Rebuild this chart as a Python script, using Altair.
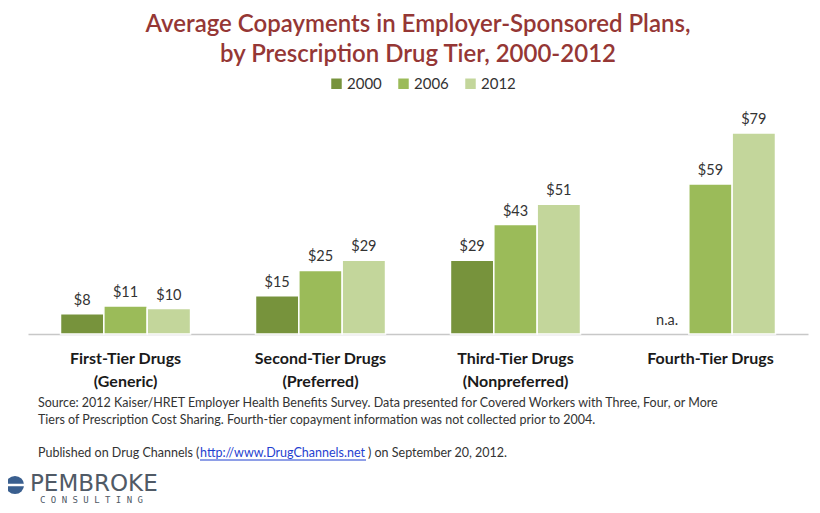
import altair as alt
import pandas as pd

# ---- data ----
tiers = ["First-Tier Drugs\n(Generic)", "Second-Tier Drugs\n(Preferred)",
         "Third-Tier Drugs\n(Nonpreferred)", "Fourth-Tier Drugs"]
years = ["2000", "2006", "2012"]
copay_2000 = [8, 15, 29, None]
copay_2006 = [11, 25, 43, 59]
copay_2012 = [10, 29, 51, 79]
colors = ["#77933C", "#9BBB59", "#C3D69B"]

title_1 = "Average Copayments in Employer-Sponsored Plans,"
title_2 = "by Prescription Drug Tier, 2000-2012"
source_1 = "Source: 2012 Kaiser/HRET Employer Health Benefits Survey. Data presented for Covered Workers with Three, Four, or More"
source_2 = "Tiers of Prescription Cost Sharing. Fourth-tier copayment information was not collected prior to 2004."
pub_a = "Published on Drug Channels ("
pub_link = "http://www.DrugChannels.net"
pub_b = ") on September 20, 2012."

rows = []
for yr, vals in zip(years, [copay_2000, copay_2006, copay_2012]):
    for t, v in zip(tiers, vals):
        rows.append({"tier": t, "year": yr, "value": v,
                     "label": f"${v}" if v is not None else "n.a.",
                     "ypos": v if v is not None else 0})
df = pd.DataFrame(rows)
bars_df = df[df["value"].notna()]

FONT = "Lato"
W, H = 780, 229

x_enc = alt.X("tier:N", sort=tiers,
              scale=alt.Scale(paddingInner=0.333, paddingOuter=0.1667),
              axis=alt.Axis(labels=False, ticks=False, title=None,
                            domainColor="#c8c8c8", domainWidth=1.5, grid=False))
xo = alt.XOffset("year:N", sort=years)
y_scale = alt.Scale(domain=[0, 90])

bars = alt.Chart(bars_df).mark_bar(stroke="white", strokeWidth=1.5).encode(
    x=x_enc, xOffset=xo,
    y=alt.Y("value:Q", scale=y_scale, axis=None),
    color=alt.Color("year:N", sort=years,
                    scale=alt.Scale(domain=years, range=colors),
                    legend=alt.Legend(title=None, orient="none", direction="horizontal",
                                      legendX=301, legendY=-29, symbolType="square",
                                      symbolSize=110, symbolStrokeWidth=0,
                                      labelFontSize=15, labelFont=FONT, labelColor="#333333",
                                      columnPadding=14, labelOffset=3)),
)

labels = alt.Chart(df).mark_text(baseline="bottom", dy=-6, fontSize=14.5, font=FONT,
                                 color="#333333").encode(
    x=x_enc, xOffset=xo,
    y=alt.Y("ypos:Q", scale=y_scale, axis=None),
    text="label:N",
)

cat_df = pd.DataFrame({"tier": tiers})
cats = alt.Chart(cat_df).mark_text(lineBreak="\n", baseline="top", fontSize=16,
                                   fontWeight="bold", font=FONT, color="#1a1a1a",
                                   lineHeight=23).encode(
    x=x_enc, y=alt.value(H + 17), text="tier:N")


def note(txt, x, y, size=12.5, color="#333333", align="left", weight="normal",
         baseline="middle", font=FONT):
    kw = dict(align=align, baseline=baseline, fontSize=size, color=color,
              fontWeight=weight, font=font)
    return alt.Chart(pd.DataFrame({"t": [txt]})).mark_text(**kw).encode(
        x=alt.value(x), y=alt.value(y), text="t:N")


t1 = note(title_1, W / 2, -80, size=24, color="#953735", align="center", weight=600)
t2 = note(title_2, W / 2, -50, size=24, color="#953735", align="center", weight=600)
src1 = note(source_1, 10, 298)
src2 = note(source_2, 10, 315)
p1 = note(pub_a, 10, 348)
p2 = note(pub_link, 172, 348, color="#1F3FD0")
p3 = note(pub_b, 340, 348)
underline = alt.Chart(pd.DataFrame({"a": [0]})).mark_rule(color="#1F3FD0", strokeWidth=1).encode(
    x=alt.value(172), x2=alt.value(338), y=alt.value(355))
logo_dot = alt.Chart(pd.DataFrame({"a": [0]})).mark_point(
    filled=True, shape="circle", size=330, color="#3A5F8F", opacity=1).encode(
    x=alt.value(-13), y=alt.value(380))
logo_stripe = alt.Chart(pd.DataFrame({"a": [0]})).mark_rule(color="white", strokeWidth=2.5).encode(
    x=alt.value(-22), x2=alt.value(-4), y=alt.value(380))
logo1 = note("PEMBROKE", 2, 379, size=23, color="#505a66", font="DejaVu Sans")
logo2 = note("C O N S U L T I N G", 12, 395, size=9, color="#505a66", font="DejaVu Sans Mono")

chart = alt.layer(bars, labels, cats, t1, t2, src1, src2, p1, p2, p3, underline,
                  logo_dot, logo_stripe, logo1, logo2).properties(
    width=W, height=H,
    autosize=alt.AutoSizeParams(type="none"),
    padding={"left": 20, "top": 97, "right": 4, "bottom": 171},
    background="white",
).configure_view(stroke=None)

chart.save("out.html", embed_options={"renderer": "svg", "actions": False})
